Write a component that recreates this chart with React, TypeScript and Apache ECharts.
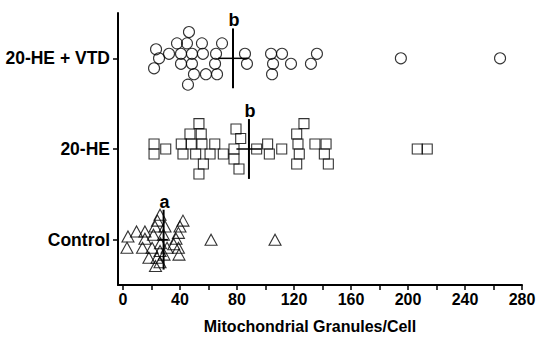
import React, { useEffect, useRef } from "react";
import * as echarts from "echarts";

const categories = ["Control", "20-HE", "20-HE + VTD"];
const xLabelValues = [0, 40, 80, 120, 160, 200, 240, 280];
const xTickValues = [0, 20, 40, 60, 80, 100, 120, 140, 160, 180, 200, 220, 240, 260, 280];

// 20-HE + VTD (row 2): granules per cell and vertical jitter (category units)
const vtdX = [46.3, 37.9, 44.9, 55.4, 69.5, 23.2, 25.3, 32.3, 40.7, 48.4, 56.1, 65.3, 40.7, 48.4, 64.6, 21.8, 49.8, 58.2, 66.0, 45.6, 85.6, 87.0, 103.9, 111.6, 105.3, 117.9, 104.6, 136.1, 131.9, 195, 264.6];
const vtdJ = [0.29, 0.165, 0.165, 0.165, 0.165, 0.1, 0.0, 0.05, 0.05, 0.05, 0.05, 0.05, -0.06, -0.06, -0.06, -0.11, -0.175, -0.175, -0.175, -0.29, 0.05, -0.06, 0.05, 0.05, -0.06, -0.06, -0.175, 0.05, -0.06, 0.0, 0.0];

// 20-HE (row 1)
const heX = [21.8, 21.8, 30.0, 53.3, 47.0, 54.9, 40.9, 47.9, 55.4, 64.4, 42.1, 51.0, 61.1, 70.4, 56.4, 53.3, 79.3, 82.6, 77.9, 77.9, 81.4, 93.8, 101.5, 102.7, 111.4, 127.0, 121.9, 122.8, 123.7, 121.9, 134.7, 142.5, 141.3, 144.1, 206.5, 213.5];
const heJ = [0.055, -0.055, 0.0, 0.28, 0.165, 0.165, 0.055, 0.055, 0.055, 0.055, -0.055, -0.055, -0.055, -0.055, -0.165, -0.275, 0.22, 0.115, 0.0, -0.11, -0.22, 0.0, 0.055, -0.055, 0.0, 0.28, 0.165, 0.055, -0.055, -0.165, 0.055, 0.055, -0.055, -0.165, 0.0, 0.0];

// Control (row 0)
const ctrlX = [26.0, 24.2, 22.5, 29.5, 42.1, 40.0, 38.9, 9.5, 15.4, 3.5, 15.4, 21.4, 28.4, 37.2, 2.8, 13.7, 20.4, 26.3, 30.9, 38.9, 26.0, 18.2, 23.9, 28.8, 39.3, 22.8, 26.0, 35.6, 61.8, 106.7];
const ctrlJ = [0.275, 0.21, 0.145, 0.145, 0.21, 0.145, 0.075, 0.09, 0.09, 0.035, 0.01, 0.055, 0.055, 0.01, -0.09, -0.09, -0.09, -0.04, -0.09, -0.09, -0.125, -0.2, -0.2, -0.165, -0.165, -0.29, -0.25, -0.05, 0.0, 0.0];

// mean, SEM and significance letters per row (Control, 20-HE, 20-HE + VTD)
const means = [28.5, 88.4, 77.2];
const sems = [3.0, 8.8, 10.5];
const letters = ["a", "b", "b"];

const FONT = "'Liberation Sans', Arial, Helvetica, sans-serif";

export default function App() {
  const ref = useRef<HTMLDivElement>(null);
  useEffect(() => {
    if (!ref.current) return;
    const chart = echarts.init(ref.current, null, { renderer: "svg" });
    const pts = (xs: number[], js: number[], row: number) => xs.map((x, i) => [x, row + js[i]]);
    const markerStyle = { color: "rgba(0,0,0,0)", borderColor: "#000", borderWidth: 1.1 };
    chart.setOption({
      animation: false,
      backgroundColor: "#fff",
      grid: { left: 118, right: 28, top: 13, bottom: 59, containLabel: false },
      xAxis: {
        type: "value",
        min: -3.5,
        max: 280,
        splitLine: { show: false },
        axisLine: { show: true, onZero: false, lineStyle: { color: "#000", width: 2 } },
        axisTick: { show: true, length: 5, customValues: xTickValues, lineStyle: { color: "#000", width: 1.5 } },
        axisLabel: {
          customValues: xLabelValues,
          color: "#000",
          fontWeight: "bold",
          fontSize: 16,
          fontFamily: FONT,
          margin: 6,
        },
        name: "Mitochondrial Granules/Cell",
        nameLocation: "middle",
        nameGap: 33,
        nameTextStyle: { color: "#000", fontWeight: "bold", fontSize: 16, fontFamily: FONT, padding: [0, 20, 0, 0] },
      },
      yAxis: {
        type: "value",
        min: -0.5,
        max: 2.5,
        splitLine: { show: false },
        axisLine: { show: true, onZero: false, lineStyle: { color: "#000", width: 2 } },
        axisTick: { show: true, length: 5, customValues: [0, 1, 2], lineStyle: { color: "#000", width: 1.5 } },
        axisLabel: {
          customValues: [0, 1, 2],
          formatter: (v: number) => categories[Math.round(v)] ?? "",
          color: "#000",
          fontWeight: "bold",
          fontSize: 17.5,
          fontFamily: FONT,
          margin: 8,
        },
      },
      series: [
        {
          type: "scatter",
          symbol: "triangle",
          symbolSize: [12, 11],
          itemStyle: markerStyle,
          data: pts(ctrlX, ctrlJ, 0),
        },
        {
          type: "scatter",
          symbol: "rect",
          symbolSize: 10,
          itemStyle: markerStyle,
          data: pts(heX, heJ, 1),
        },
        {
          type: "scatter",
          symbol: "circle",
          symbolSize: 11,
          itemStyle: markerStyle,
          data: pts(vtdX, vtdJ, 2),
        },
        {
          type: "custom",
          z: 10,
          data: means.map((m, i) => [m, i, sems[i]]),
          renderItem: (params: any, api: any) => {
            const m = api.value(0);
            const row = api.value(1);
            const s = api.value(2);
            const top = api.coord([m, row + 0.33]);
            const bot = api.coord([m, row - 0.33]);
            const l = api.coord([m - s, row]);
            const r = api.coord([m + s, row]);
            return {
              type: "group",
              children: [
                { type: "line", shape: { x1: top[0], y1: top[1], x2: bot[0], y2: bot[1] }, style: { stroke: "#000", lineWidth: 2 } },
                { type: "line", shape: { x1: l[0], y1: l[1], x2: r[0], y2: r[1] }, style: { stroke: "#000", lineWidth: 1.5 } },
                {
                  type: "text",
                  x: top[0] + 1,
                  y: top[1] + 1,
                  style: {
                    text: letters[params.dataIndex],
                    fill: "#000",
                    font: `bold 18px ${FONT}`,
                    textAlign: "center",
                    textVerticalAlign: "bottom",
                  },
                },
              ],
            };
          },
        },
      ],
    });
    return () => chart.dispose();
  }, []);
  return <div ref={ref} style={{ width: 550, height: 344, position: "absolute", left: 0, top: 0 }} />;
}
